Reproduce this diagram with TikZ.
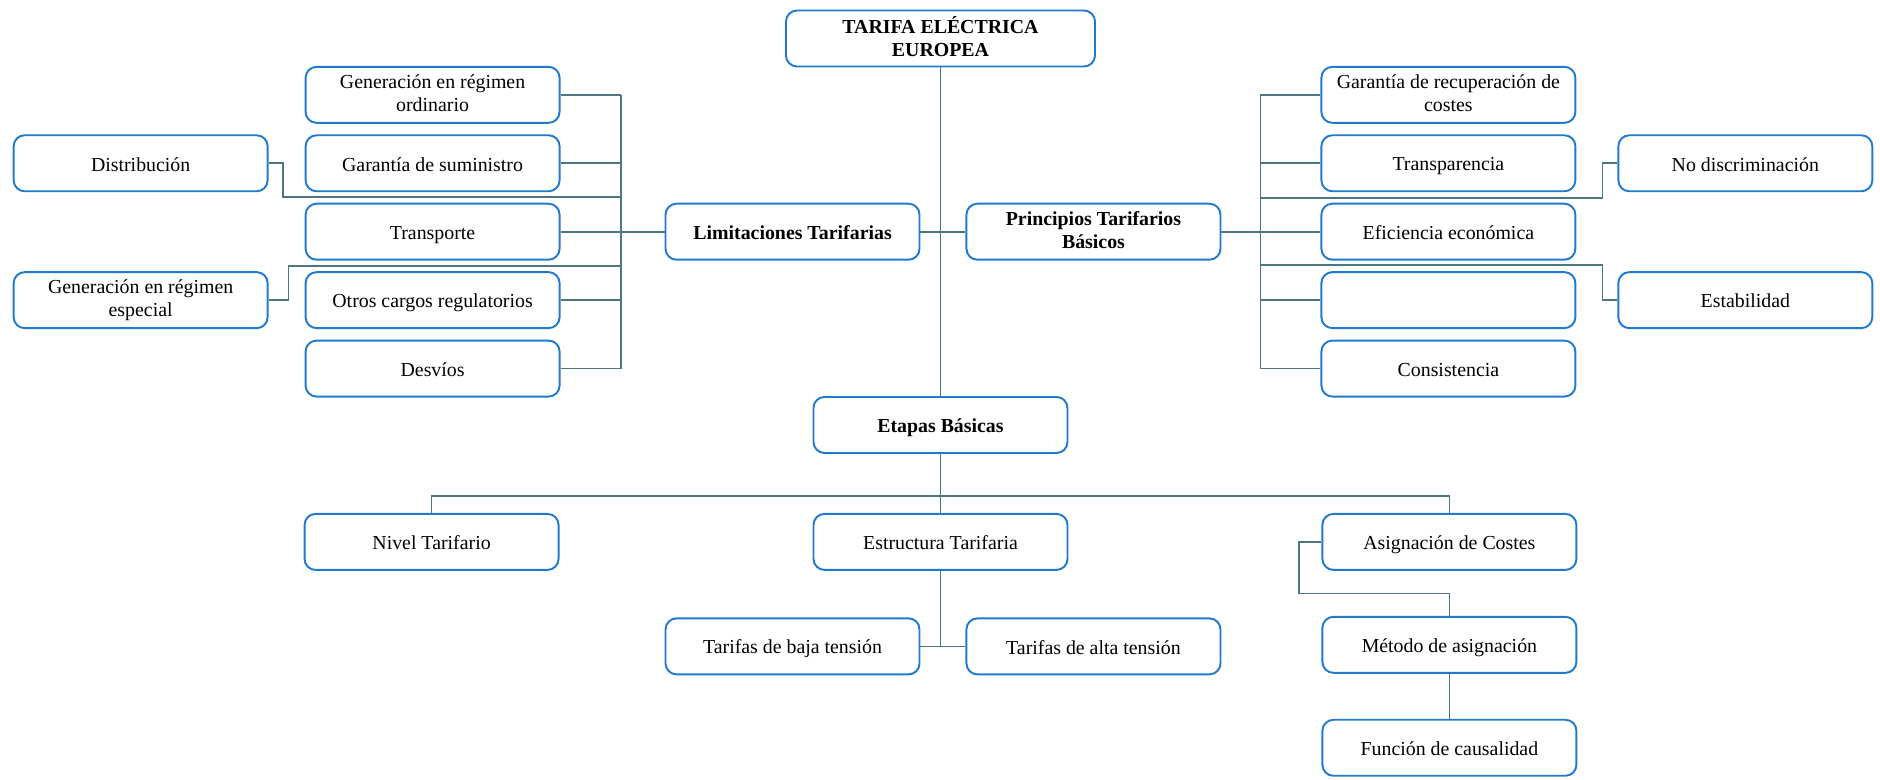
\documentclass[tikz,border=0pt]{standalone}
\usepackage{fontspec}
\setmainfont{Liberation Serif}
\usepackage{tikz}
\usetikzlibrary{positioning}

\definecolor{boxblue}{RGB}{31,122,206}
\definecolor{linegray}{RGB}{78,118,128}

\begin{document}
\begin{tikzpicture}[
        node distance=0.21cm and 0.72cm,
        box/.style={rectangle, draw=boxblue, line width=1.1pt, rounded corners=0.22cm, align=center, minimum width=5.08cm, minimum height=1.12cm, inner sep=2pt, font=\fontsize{11.3}{13}\selectfont, execute at begin node={\rule{0pt}{10.9pt}}, execute at end node={\rule[-2.1pt]{0pt}{2.1pt}}},
        bbox/.style={box, font=\fontsize{11.3}{13}\selectfont\bfseries},
        conn/.style={draw=linegray, line width=0.95pt}
    ]

    \useasboundingbox (-18.81,-14.81) rectangle (18.79,0.77);

    \node[bbox, minimum width=6.18cm] (tarifa) {TARIFA ELÉCTRICA\\EUROPEA};

    \coordinate[below=3.864cm of tarifa.center] (hub);
    \node[bbox, left=0.4cm of hub] (lim) {Limitaciones Tarifarias};
    \node[bbox, right=0.5cm of hub] (princ) {Principios Tarifarios\\Básicos};

    % limitaciones
    \node[box, left=2.08cm of lim] (transp) {Transporte};
    \node[box, above=of transp] (garsum) {Garantía de suministro};
    \node[box, above=of garsum] (genord) {Generación en régimen\\ordinario};
    \node[box, below=of transp] (otros) {Otros cargos regulatorios};
    \node[box, below=of otros] (desvios) {Desvíos};
    \node[box, left=of garsum] (distrib) {Distribución};
    \node[box, left=of otros] (genesp) {Generación en régimen\\especial};

    % principios
    \node[box, right=1.98cm of princ] (efic) {Eficiencia económica};
    \node[box, above=of efic] (transpar) {Transparencia};
    \node[box, above=of transpar] (garrec) {Garantía de recuperación de\\costes};
    \node[box, below=of efic] (vacio) {};
    \node[box, below=of vacio] (consist) {Consistencia};
    \node[box, right=0.82cm of transpar] (nodisc) {No discriminación};
    \node[box, right=0.82cm of vacio] (estab) {Estabilidad};

    % etapas
    \node[bbox, below=3.286cm of hub] (etapas) {Etapas Básicas};
    \node[box, below=1.18cm of etapas] (estruct) {Estructura Tarifaria};
    \node[box, left=5.06cm of estruct] (nivel) {Nivel Tarifario};
    \node[box, right=5.06cm of estruct] (asig) {Asignación de Costes};
    \coordinate[below=1.51cm of estruct.south] (tfork);
    \node[box, left=0.4cm of tfork] (baja) {Tarifas de baja tensión};
    \node[box, right=0.5cm of tfork] (alta) {Tarifas de alta tensión};
    \node[box, below=0.9cm of asig] (metodo) {Método de asignación};
    \node[box, below=0.9cm of metodo] (funcion) {Función de causalidad};

    \draw[conn] (tarifa.south) -- (etapas.north);
    \draw[conn] (lim.east) -- (princ.west);

    \coordinate[right=1.21cm of genord.east] (lbus);
    \draw[conn] (lbus) -- (lbus |- desvios.east);
    \foreach \n in {genord, garsum, transp, otros, desvios}
        \draw[conn] (\n.east) -- (\n.east -| lbus);
    \draw[conn] (lim.west) -- (lim.west -| lbus);
    \coordinate[below=0.1cm of garsum.south] (gapa);
    \coordinate[below=0.1cm of transp.south] (gapb);
    \draw[conn] (distrib.east) -- ++(0.29cm,0) |- (gapa -| lbus);
    \draw[conn] (genesp.east) -- ++(0.4cm,0) |- (gapb -| lbus);

    \coordinate[left=1.2cm of garrec.west] (rbus);
    \draw[conn] (rbus) -- (rbus |- consist.west);
    \foreach \n in {garrec, transpar, efic, vacio, consist}
        \draw[conn] (\n.west) -- (\n.west -| rbus);
    \draw[conn] (princ.east) -- (princ.east -| rbus);
    \coordinate[below=0.12cm of transpar.south] (gapc);
    \coordinate[below=0.08cm of efic.south] (gapd);
    \draw[conn] (nodisc.west) -- ++(-0.3cm,0) |- (gapc -| rbus);
    \draw[conn] (estab.west) -- ++(-0.3cm,0) |- (gapd -| rbus);

    \coordinate[above=0.34cm of estruct.north] (ebus);
    \draw[conn] (etapas.south) -- (estruct.north);
    \draw[conn] (nivel.north) |- (ebus) -| (asig.north);
    \draw[conn] (estruct.south) -- (tfork);
    \draw[conn] (baja.east) -- (alta.west);

    \coordinate[above=0.45cm of metodo.north] (mgap);
    \draw[conn] (asig.west) -- ++(-0.45cm,0) |- (mgap) -- (metodo.north);
    \draw[conn] (metodo.south) -- (funcion.north);

    \end{tikzpicture}
\end{document}
